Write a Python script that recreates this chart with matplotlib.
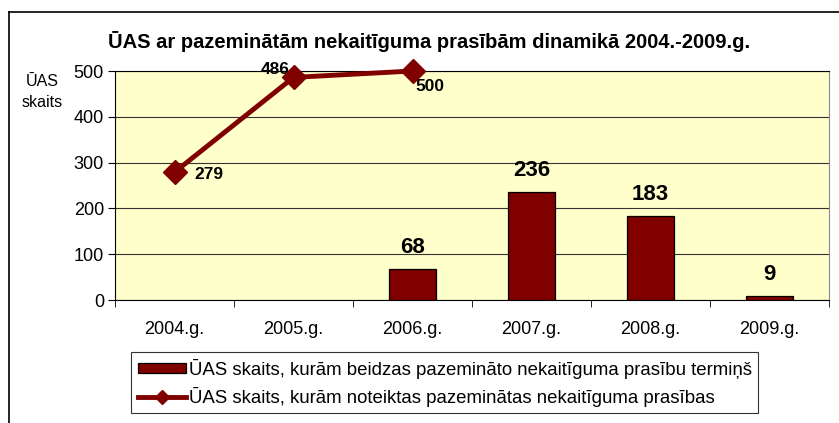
import matplotlib.pyplot as plt
from matplotlib.lines import Line2D
import numpy as np

plt.rcParams['font.family'] = ['Liberation Sans', 'DejaVu Sans']

years = ['2004.g.', '2005.g.', '2006.g.', '2007.g.', '2008.g.', '2009.g.']
bar_years = [2, 3, 4, 5]
bar_vals = [68, 236, 183, 9]
line_years = [0, 1, 2]
line_vals = [279, 486, 500]

red = '#800000'

fig = plt.figure(figsize=(8.39, 4.23), dpi=100)
ax = fig.add_axes([115/839, 1 - 300/423, 714/839, 229/423])
ax.set_facecolor('#FFFFCC')

ax.bar(bar_years, bar_vals, width=0.4, color=red, edgecolor='black', linewidth=0.9, zorder=3)
ax.plot(line_years, line_vals, color=red, lw=3.5, marker='D', ms=12, zorder=4, clip_on=False)

for x, v in zip(bar_years, bar_vals):
    ax.annotate(str(v), (x, v), xytext=(0, 8), textcoords='offset points',
                ha='center', va='bottom', fontsize=16, fontweight='bold')

ax.annotate('279', (0, 279), xytext=(14, -2), textcoords='offset points',
            ha='left', va='center', fontsize=12.5, fontweight='bold')
ax.annotate('486', (1, 486), xytext=(-3, 0), textcoords='offset points',
            ha='right', va='bottom', fontsize=12.5, fontweight='bold')
ax.annotate('500', (2, 500), xytext=(2, -5.5), textcoords='offset points',
            ha='left', va='top', fontsize=12.5, fontweight='bold')

ax.set_xlim(-0.5, 5.5)
ax.set_ylim(0, 500)
ax.set_yticks(np.arange(0, 501, 100))
ax.set_xticks(np.arange(6))
ax.set_xticklabels(years)
ax.set_xticks(np.arange(-0.5, 6, 1), minor=True)
ax.tick_params(axis='x', which='major', length=0, pad=15, labelsize=13)
ax.tick_params(axis='x', which='minor', length=5, direction='out')
ax.tick_params(axis='y', length=5, direction='out', labelsize=13, pad=3)
ax.yaxis.grid(True, color='#333333', lw=0.8, zorder=1)
for s in ['left', 'bottom', 'top']:
    ax.spines[s].set_color('black')
ax.spines['right'].set_color('#888888')

fig.text(42/839, 1 - 92/423, 'ŪAS\nskaits', ha='center', va='center', fontsize=11.5,
         linespacing=1.5)
fig.text(429/839, 1 - 42/423, 'ŪAS ar pazeminātām nekaitīguma prasībām dinamikā 2004.-2009.g.',
         ha='center', va='center', fontsize=14.5, fontweight='bold')

handles = [plt.Rectangle((0, 0), 1, 1, fc=red, ec='black', lw=0.9),
           Line2D([], [], color=red, lw=3.5, marker='D', ms=7)]
labels = ['ŪAS skaits, kurām beidzas pazemināto nekaitīguma prasību termiņš',
          'ŪAS skaits, kurām noteiktas pazeminātas nekaitīguma prasības']
leg = fig.legend(handles, labels, loc='upper left', bbox_to_anchor=(131/839, 1 - 352/423),
                 fontsize=13.4, frameon=True, fancybox=False, edgecolor='black',
                 handlelength=2.6, handleheight=0.5, handletextpad=0.15, borderaxespad=0,
                 labelspacing=0.45, borderpad=0.35)
leg.get_frame().set_linewidth(0.8)

fig.add_artist(Line2D([8.5/839, 8.5/839], [0, 1 - 12/423], color='black', lw=1.2))
fig.add_artist(Line2D([8.5/839, 1], [1 - 12/423, 1 - 12/423], color='black', lw=1.2))

fig.savefig('out.png', dpi=100)
